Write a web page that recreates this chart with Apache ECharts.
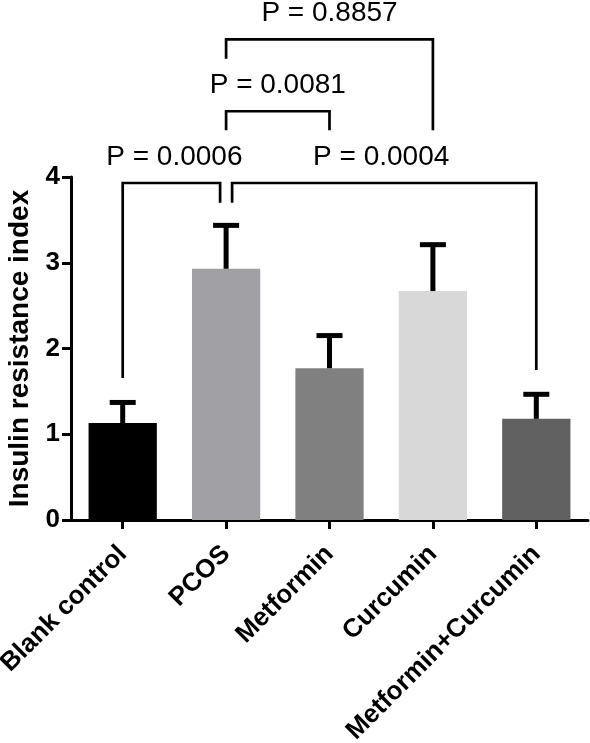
<!DOCTYPE html>
<html>
<head>
<meta charset="utf-8">
<script src="https://cdn.jsdelivr.net/npm/echarts@6/dist/echarts.min.js"></script>
<style>html,body{margin:0;padding:0;background:#fff}#c{width:590px;height:743px}</style>
</head>
<body>
<div id="c"></div>
<script>
var categories = ['Blank control', 'PCOS', 'Metformin', 'Curcumin', 'Metformin+Curcumin'];
var means = [1.13, 2.93, 1.77, 2.67, 1.18];
var sds = [0.27, 0.535, 0.41, 0.57, 0.315];
var yTicks = [0, 1, 2, 3, 4];
// significance brackets: from group, to group, bracket height, left end, right end, label
var bracketFrom = [0, 1, 1, 1];
var bracketTo = [1, 4, 2, 3];
var bracketLevel = [3.93, 3.93, 4.767, 5.606];
var bracketLeftEnd = [1.655, 3.70, 4.545, 5.38];
var bracketRightEnd = [3.70, 1.75, 4.545, 4.545];
var bracketLabels = ['P = 0.0006', 'P = 0.0004', 'P = 0.0081', 'P = 0.8857'];

var barColors = ['#000000', '#a1a1a5', '#808080', '#d8d8d8', '#606060'];
var endOffsets = [[0, -6], [6, 0], [0, 0], [0, 0]];
var FONT = 'Arial, "Liberation Sans", sans-serif';

var chart = echarts.init(document.getElementById('c'));
var errData = means.map(function (m, i) { return [i, m, m + sds[i]]; });
var brData = bracketFrom.map(function (f, i) {
  return [f, bracketTo[i], bracketLevel[i], bracketLeftEnd[i], bracketRightEnd[i], i];
});

chart.setOption({
  animation: false,
  grid: { left: 71, right: 2, top: 177, bottom: 223, containLabel: false, outerBoundsMode: 'none' },
  xAxis: {
    type: 'category',
    data: categories,
    axisLine: { lineStyle: { color: '#000', width: 3 } },
    axisTick: { show: true, alignWithLabel: true, length: 9, lineStyle: { color: '#000', width: 3 } },
    axisLabel: { rotate: 45, margin: 30, color: '#000', fontSize: 26, fontWeight: 'bold', fontFamily: FONT, interval: 0 }
  },
  yAxis: {
    type: 'value',
    min: yTicks[0], max: yTicks[yTicks.length - 1], interval: 1,
    name: 'Insulin resistance index',
    nameLocation: 'middle',
    nameGap: 37,
    nameTextStyle: { color: '#000', fontSize: 28, fontWeight: 'bold', fontFamily: FONT },
    splitLine: { show: false },
    axisLine: { show: true, lineStyle: { color: '#000', width: 3 } },
    axisTick: { show: true, length: 9, lineStyle: { color: '#000', width: 3 } },
    axisLabel: { margin: 11, color: '#000', fontSize: 26, fontWeight: 'bold', fontFamily: FONT }
  },
  series: [
    {
      type: 'bar',
      data: means.map(function (v, i) { return { value: v, itemStyle: { color: barColors[i] } }; }),
      barWidth: '66%',
      z: 2
    },
    {
      type: 'custom',
      clip: false,
      z: 3,
      data: errData,
      renderItem: function (params, api) {
        var p0 = api.coord([api.value(0), api.value(1)]);
        var p1 = api.coord([api.value(0), api.value(2)]);
        return {
          type: 'group',
          children: [
            { type: 'line', shape: { x1: p0[0], y1: p0[1], x2: p1[0], y2: p1[1] + 2.5 }, style: { stroke: '#000', lineWidth: 5 } },
            { type: 'line', shape: { x1: p1[0] - 13, y1: p1[1] + 2.5, x2: p1[0] + 13, y2: p1[1] + 2.5 }, style: { stroke: '#000', lineWidth: 5 } }
          ]
        };
      }
    },
    {
      type: 'custom',
      clip: false,
      z: 4,
      data: brData,
      renderItem: function (params, api) {
        var idx = api.value(5);
        var off = endOffsets[idx];
        var a = api.coord([api.value(0), api.value(2)]);
        var b = api.coord([api.value(1), api.value(2)]);
        var aEnd = api.coord([api.value(0), api.value(3)]);
        var bEnd = api.coord([api.value(1), api.value(4)]);
        var xa = a[0] + off[0], xb = b[0] + off[1];
        return {
          type: 'group',
          children: [
            { type: 'polyline', shape: { points: [[xa, aEnd[1]], [xa, a[1]], [xb, b[1]], [xb, bEnd[1]]] },
              style: { stroke: '#000', lineWidth: 2.7, fill: null } },
            { type: 'text', x: (a[0] + b[0]) / 2, y: a[1] - 26,
              style: { text: bracketLabels[idx], fill: '#000', font: '28px ' + FONT, align: 'center', verticalAlign: 'middle' } }
          ]
        };
      }
    }
  ]
});
</script>
</body>
</html>
